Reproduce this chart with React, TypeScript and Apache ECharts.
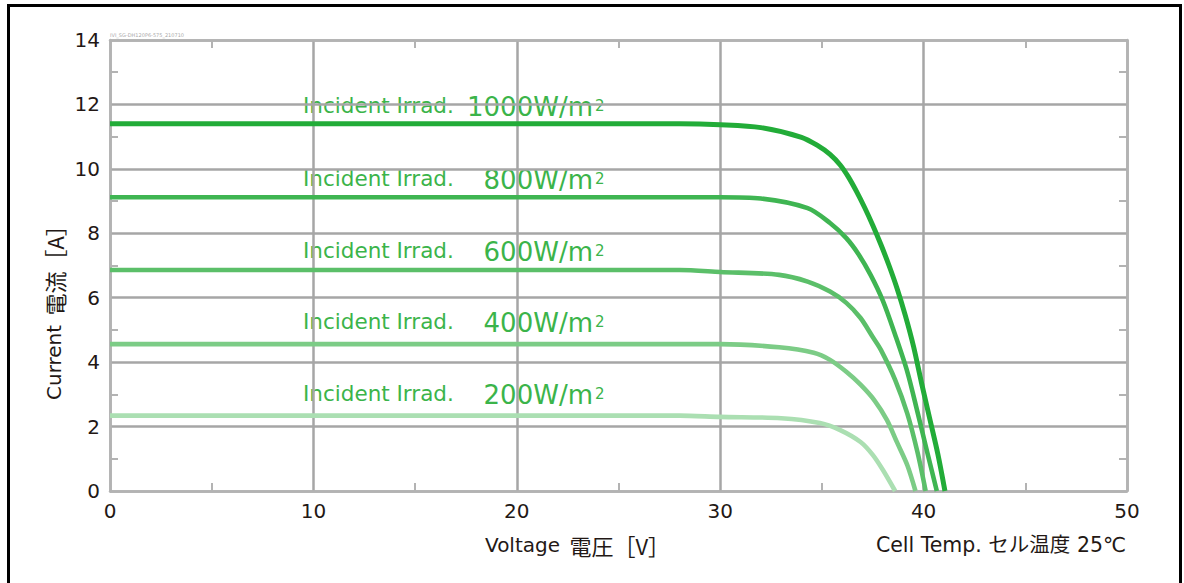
import React, { useEffect, useRef } from "react";
import * as echarts from "echarts";

// Voltage [V], Current [A] pairs
const curve1000: [number, number][] = [
  [0, 11.4], [28, 11.4], [30, 11.37], [32, 11.28], [34, 10.98], [34.8, 10.72], [35.4, 10.45],
  [35.9, 10.12], [36.3, 9.75], [36.7, 9.3], [37.1, 8.8], [37.5, 8.25], [37.9, 7.65], [38.3, 7.0],
  [38.7, 6.28], [39.1, 5.45], [39.5, 4.5], [39.9, 3.35], [40.3, 2.25], [40.7, 1.15], [41.05, 0],
];
const curve800: [number, number][] = [
  [0, 9.12], [30, 9.12], [32, 9.08], [34.3, 8.78], [35.4, 8.32], [36.2, 7.85], [36.8, 7.35],
  [37.4, 6.7], [38.0, 5.9], [38.6, 4.85], [39.2, 3.7], [39.7, 2.45], [40.2, 1.15], [40.65, 0],
];
const curve600: [number, number][] = [
  [0, 6.86], [28, 6.86], [30, 6.8], [32.9, 6.71], [34.3, 6.5], [35.4, 6.19], [36.2, 5.84],
  [36.9, 5.37], [37.5, 4.78], [37.9, 4.38], [38.6, 3.45], [39.2, 2.4], [39.7, 1.2], [40.1, 0],
];
const curve400: [number, number][] = [
  [0, 4.56], [30, 4.56], [32.9, 4.46], [34.6, 4.29], [35.4, 4.07], [36.2, 3.7], [36.9, 3.3],
  [37.6, 2.8], [38.2, 2.2], [38.7, 1.5], [39.2, 0.8], [39.6, 0],
];
const curve200: [number, number][] = [
  [0, 2.34], [28, 2.34], [30, 2.3], [33, 2.26], [34.9, 2.11], [35.9, 1.89], [36.9, 1.52],
  [37.5, 1.12], [38.0, 0.65], [38.6, 0],
];

const irradiances = ["1000", "800", "600", "400", "200"];
const curves = [curve1000, curve800, curve600, curve400, curve200];
const lineColors = ["#22ac38", "#3fb552", "#5bbf69", "#7ccc86", "#abdfb2"];
const lineWidths = [5, 4.6, 4.6, 4.6, 4.6];

const xTickValues = [0, 10, 20, 30, 40, 50];
const yTickValues = [0, 2, 4, 6, 8, 10, 12, 14];

const xAxisTitleLatin = "Voltage ";
const xAxisTitleCJK = "電圧［V］";
const yAxisTitleLatin = "Current ";
const yAxisTitleCJK = "電流［A］";
const tempNote = "Cell Temp. セル温度 25℃";
const labelPrefix = "Incident Irrad.";
const fileTag = "IVI_SG-DH120P6-575_210710";

const FONT = "'DejaVu Sans', 'Noto Sans CJK JP', sans-serif";
const CJK_FONT = "'Noto Sans CJK JP', 'DejaVu Sans', sans-serif";
const TEXT = "#231815";
const GRID = "#a6a6a6";
const BORDER = "#b3b3b3";
const LABEL_GREEN = "#3bb44a";

export default function App() {
  const ref = useRef<HTMLDivElement>(null);
  useEffect(() => {
    if (!ref.current) return;
    const chart = echarts.init(ref.current, undefined, { renderer: "svg" });

    const baseAxisLine = { show: true, onZero: false, lineStyle: { color: BORDER, width: 2.5 } };
    const minor = { show: true, splitNumber: 2, length: 8, lineStyle: { color: BORDER, width: 2 } };

    const titleRich = {
      l: { fontFamily: FONT, fontSize: 20, fill: TEXT, color: TEXT },
      c: { fontFamily: CJK_FONT, fontSize: 22, fill: TEXT, color: TEXT, padding: [0, 0, 0, 3] },
    };

    const rowY = [105, 178, 250, 321, 393];
    const graphics: any[] = [
      {
        type: "rect",
        shape: { x: 8.5, y: 5.5, width: 1172, height: 700 },
        style: { fill: "none", stroke: "#000", lineWidth: 3 },
        silent: true,
      },
      {
        type: "text", x: 110, y: 35,
        style: { text: fileTag, fill: "#aaaaaa", font: `5px ${FONT}`, align: "left", verticalAlign: "middle" },
      },
      {
        type: "text", x: 485, y: 545,
        style: {
          text: `{l|${xAxisTitleLatin}}{c|${xAxisTitleCJK}}`, rich: titleRich,
          fill: TEXT, font: `20px ${FONT}`, align: "left", verticalAlign: "middle",
        },
      },
      {
        type: "text", x: 1126, y: 545,
        style: { text: tempNote, fill: TEXT, font: `20.5px ${FONT}`, align: "right", verticalAlign: "middle" },
      },
      {
        type: "text", x: 54, y: 400, rotation: Math.PI / 2,
        style: {
          text: `{l|${yAxisTitleLatin}}{c|${yAxisTitleCJK}}`, rich: titleRich,
          fill: TEXT, font: `20px ${FONT}`, align: "left", verticalAlign: "middle",
        },
      },
    ];
    irradiances.forEach((irr, i) => {
      const y = rowY[i];
      graphics.push(
        {
          type: "text", x: 303, y,
          style: { text: labelPrefix, fill: LABEL_GREEN, font: `21.5px ${FONT}`, align: "left", verticalAlign: "middle" },
        },
        {
          type: "text", x: 593, y: y + 1.5,
          style: { text: `${irr}W/m`, fill: LABEL_GREEN, font: `26px ${FONT}`, align: "right", verticalAlign: "middle" },
        },
        {
          type: "text", x: 595, y: y + 0.5,
          style: { text: "2", fill: LABEL_GREEN, font: `15px ${FONT}`, align: "left", verticalAlign: "middle" },
        }
      );
    });

    chart.setOption({
      animation: false,
      grid: { left: 110, right: 57, top: 40, bottom: 92, containLabel: false },
      xAxis: [
        {
          type: "value", min: 0, max: 50, interval: 10, position: "bottom",
          axisLine: baseAxisLine,
          axisTick: { show: false, inside: true },
          minorTick: minor,
          splitLine: { show: true, lineStyle: { color: GRID, width: 2.5 } },
          axisLabel: {
            show: true, margin: 10, color: TEXT, fontSize: 20, fontFamily: FONT,
            formatter: (v: number) => (xTickValues.includes(v) ? String(v) : ""),
          },
        },
        {
          type: "value", min: 0, max: 50, interval: 10, position: "top",
          axisLine: baseAxisLine,
          axisTick: { show: false, inside: true },
          minorTick: minor,
          splitLine: { show: false },
          axisLabel: { show: false },
        },
      ],
      yAxis: [
        {
          type: "value", min: 0, max: 14, interval: 2, position: "left",
          axisLine: baseAxisLine,
          axisTick: { show: false, inside: true },
          minorTick: minor,
          splitLine: { show: true, lineStyle: { color: GRID, width: 2.5 } },
          axisLabel: {
            show: true, margin: 10, color: TEXT, fontSize: 20, fontFamily: FONT,
            formatter: (v: number) => (yTickValues.includes(v) ? String(v) : ""),
          },
        },
        {
          type: "value", min: 0, max: 14, interval: 2, position: "right",
          axisLine: baseAxisLine,
          axisTick: { show: false, inside: true },
          minorTick: minor,
          splitLine: { show: false },
          axisLabel: { show: false },
        },
      ],
      series: curves.map((c, i) => ({
        type: "line",
        name: `${irradiances[i]}W/m2`,
        xAxisIndex: 0,
        yAxisIndex: 0,
        data: c,
        showSymbol: false,
        smooth: 0.3,
        z: 10 - i,
        lineStyle: { color: lineColors[i], width: lineWidths[i], cap: "butt", join: "round" },
        itemStyle: { color: lineColors[i] },
      })),
      graphic: graphics,
    });
    return () => chart.dispose();
  }, []);
  return (
    <div
      ref={ref}
      style={{ position: "fixed", left: 0, top: 0, width: 1184, height: 583, background: "#fff" }}
    />
  );
}
